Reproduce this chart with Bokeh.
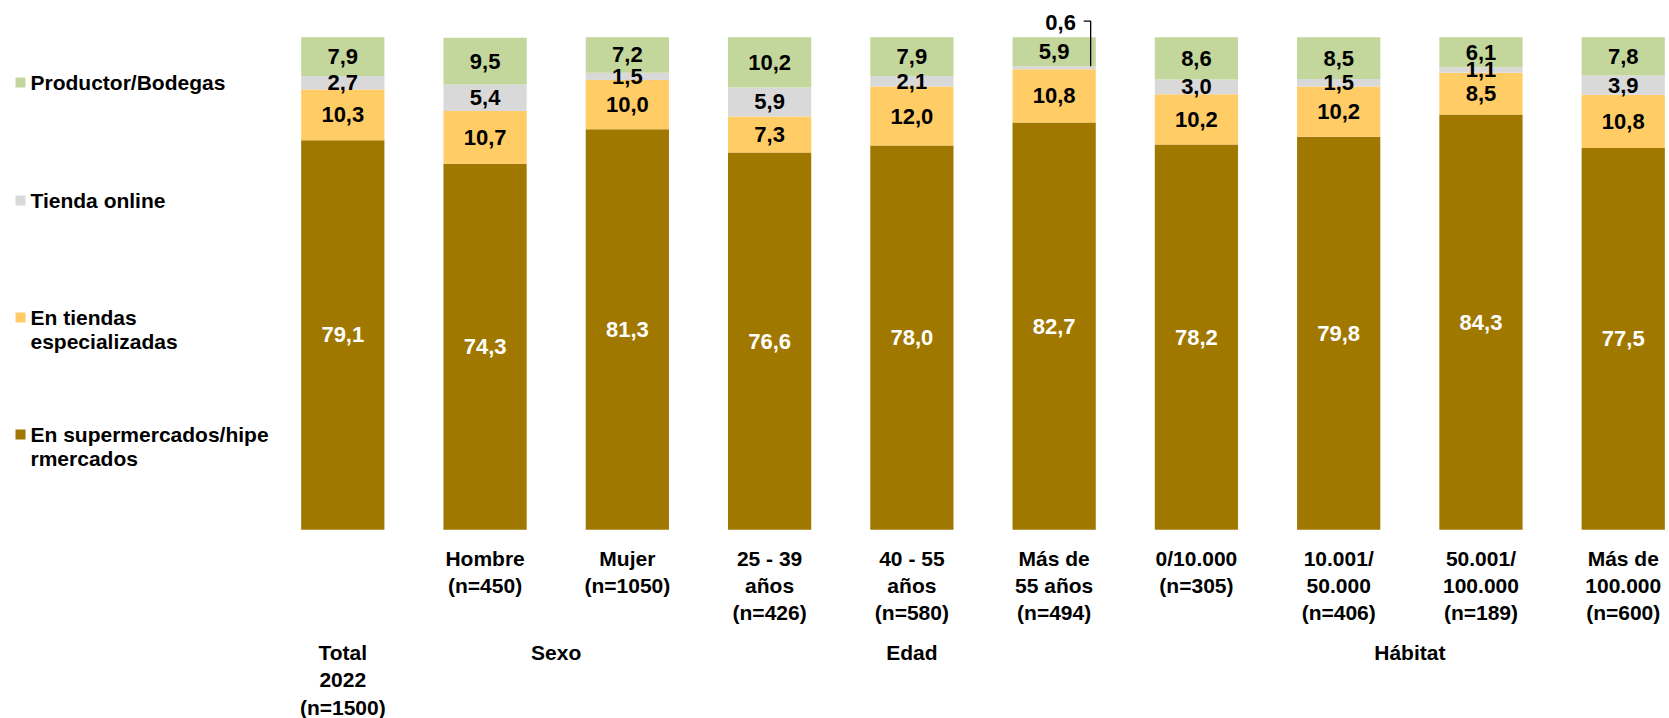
from bokeh.plotting import figure
from bokeh.models import ColumnDataSource, Range1d
from bokeh.core.properties import value
from bokeh.embed import file_html
from bokeh.resources import INLINE

# ---------------- data ----------------
categories = ["Total 2022", "Hombre", "Mujer", "25 - 39 años", "40 - 55 años",
              "Más de 55 años", "0/10.000", "10.001/50.000", "50.001/100.000",
              "Más de 100.000"]
tick_labels = ["", "Hombre\n(n=450)", "Mujer\n(n=1050)", "25 - 39\naños\n(n=426)",
               "40 - 55\naños\n(n=580)", "Más de\n55 años\n(n=494)", "0/10.000\n(n=305)",
               "10.001/\n50.000\n(n=406)", "50.001/\n100.000\n(n=189)",
               "Más de\n100.000\n(n=600)"]
group_labels = ["Total\n2022\n(n=1500)", "Sexo", "Edad", "Hábitat"]
group_members = [[0], [1, 2], [3, 4, 5], [6, 7, 8, 9]]

series_names = ["En supermercados/hipe\nrmercados", "En tiendas\nespecializadas",
                "Tienda online", "Productor/Bodegas"]
supermercados = [79.1, 74.3, 81.3, 76.6, 78.0, 82.7, 78.2, 79.8, 84.3, 77.5]
especializadas = [10.3, 10.7, 10.0, 7.3, 12.0, 10.8, 10.2, 10.2, 8.5, 10.8]
online = [2.7, 5.4, 1.5, 5.9, 2.1, 0.6, 3.0, 1.5, 1.1, 3.9]
productor = [7.9, 9.5, 7.2, 10.2, 7.9, 5.9, 8.6, 8.5, 6.1, 7.8]

colors = ["#A07800", "#FFCC66", "#D9D9D9", "#C3D69B"]
label_colors = ["white", "black", "black", "black"]

# ---------------- layout constants (pixels) ----------------
W, H = 1669, 718
X0_PX, STEP = 342.3, 142.27      # x of first bar centre, spacing
Y0_PX, YS = 529.3, 4.926         # y of value 0, px per unit
FONT = "Liberation Sans"


def dx(px):
    return (px - X0_PX) / STEP


def dy(py):
    return (Y0_PX - py) / YS


p = figure(width=W, height=H, output_backend="svg", toolbar_location=None,
           x_range=Range1d(dx(0), dx(W)), y_range=Range1d(dy(H), dy(0)),
           x_axis_type=None, y_axis_type=None, min_border=0)
p.outline_line_color = None
p.xgrid.visible = False
p.ygrid.visible = False
p.background_fill_color = "white"

xs = list(range(len(categories)))
series = [supermercados, especializadas, online, productor]
keys = ["s0", "s1", "s2", "s3"]
src = ColumnDataSource(dict(x=xs, **{k: v for k, v in zip(keys, series)}))
p.vbar_stack(keys, x="x", width=0.585, color=colors, line_color=None, source=src)

# ---------------- data labels ----------------
lx, ly, lt, lc = [], [], [], []
small = []
for i in xs:
    base = 0.0
    for s, vals in enumerate(series):
        v = vals[i]
        if v >= 1.0:
            lx.append(i)
            ly.append(base + v / 2)
            lt.append(f"{v:.1f}".replace(".", ","))
            lc.append(label_colors[s])
        else:
            small.append((i, base + v, v))
        base += v
p.text(x=lx, y=ly, text=lt, text_color=lc, text_align="center",
       text_baseline="middle", text_font=value(FONT), text_font_style="bold",
       text_font_size="22px")

# callout for very small values
for i, top, v in small:
    p.text(x=[i + 6.5 / STEP], y=[dy(22)], text=[f"{v:.1f}".replace(".", ",")],
           text_align="center", text_baseline="middle", text_font=value(FONT),
           text_font_style="bold", text_font_size="22px", text_color="black")
    p.line(x=[i + 29.5 / STEP, i + 36.5 / STEP, i + 36.5 / STEP],
           y=[dy(20.7), dy(20.7), top], line_color="black", line_width=1.3)

# ---------------- category labels ----------------
LH = 27
cx, cy, ct = [], [], []
for i, lab in enumerate(tick_labels):
    for k, line in enumerate(lab.split("\n")):
        if line:
            cx.append(i)
            cy.append(dy(558 + k * LH))
            ct.append(line)
for g, members in zip(group_labels, group_members):
    gx = sum(members) / len(members)
    for k, line in enumerate(g.split("\n")):
        cx.append(gx)
        cy.append(dy(652 + k * 27.5))
        ct.append(line)
p.text(x=cx, y=cy, text=ct, text_align="center", text_baseline="middle",
       text_font=value(FONT), text_font_style="bold", text_font_size="21px",
       text_color="black")

# ---------------- legend (top to bottom) ----------------
leg_first = [82, 200, 317, 434]
LLH = 23.5
order = [3, 2, 1, 0]
sq_x, sq_y, sq_c = [], [], []
tx, ty_, tt = [], [], []
for row, s in enumerate(order):
    y0 = leg_first[row]
    sq_x.append(dx(20))
    sq_y.append(dy(y0))
    sq_c.append(colors[s])
    for k, line in enumerate(series_names[s].split("\n")):
        tx.append(dx(30))
        ty_.append(dy(y0 + k * LLH))
        tt.append(line)
p.scatter(x=sq_x, y=sq_y, marker="square", size=10, color=sq_c, line_color=None)
p.text(x=tx, y=ty_, text=tt, text_align="left", text_baseline="middle",
       text_font=value(FONT), text_font_style="bold", text_font_size="21px",
       text_color="black")

open("out.html", "w").write(file_html(p, INLINE))
